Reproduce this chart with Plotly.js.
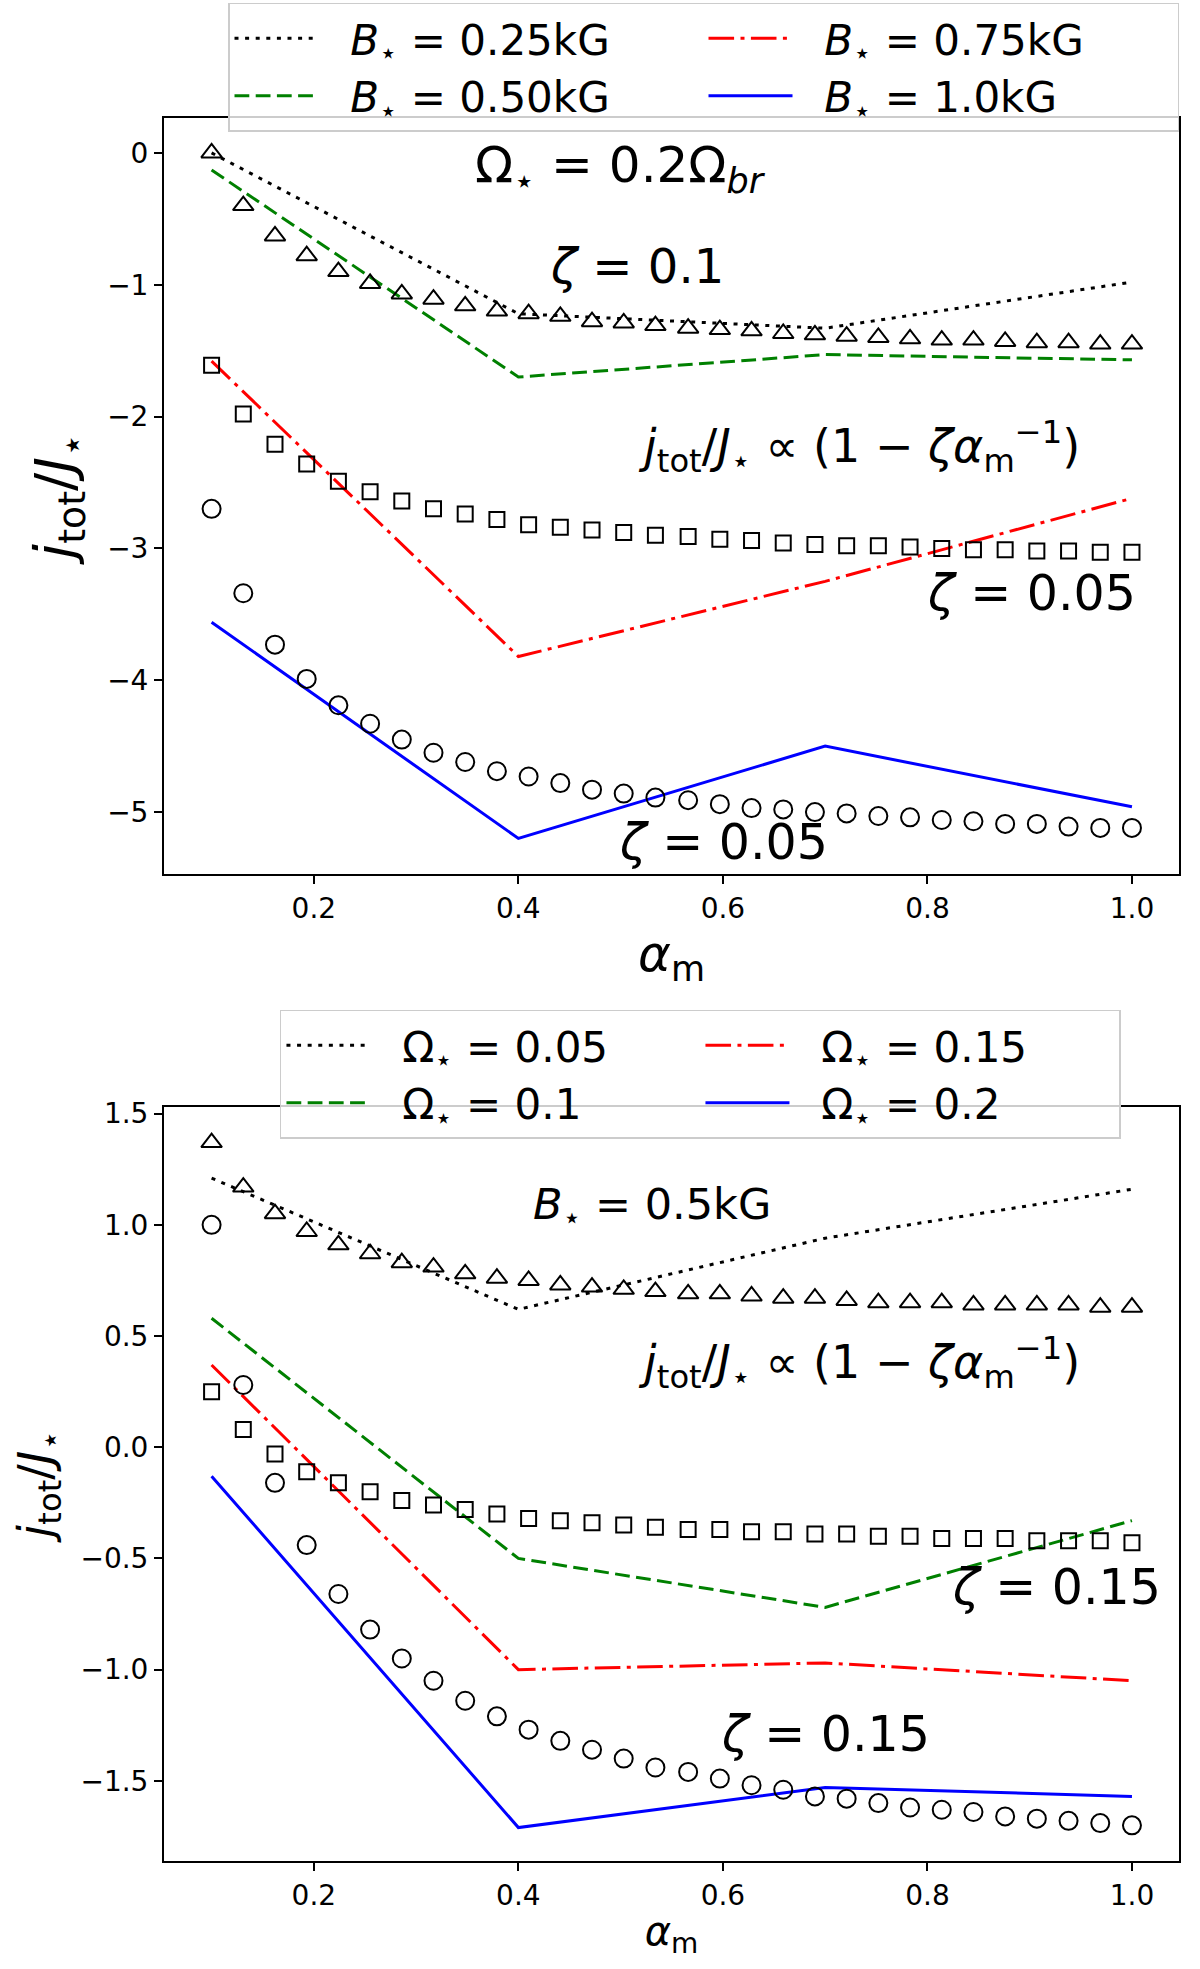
<!DOCTYPE html>
<html>
<head>
<meta charset="utf-8">
<script src="https://cdn.plot.ly/plotly-3.0.1.min.js"></script>
<style>html,body{margin:0;padding:0;background:#fff;}#chart{width:1200px;height:1969px;}</style>
</head>
<body>
<div id="chart"></div>
<script>
// ---- data ----
var alphaLine = [0.1, 0.4, 0.7, 1.0];
var alphaPts = [0.1, 0.131, 0.162, 0.193, 0.224, 0.255, 0.286, 0.317, 0.348, 0.379,
                0.410, 0.441, 0.472, 0.503, 0.534, 0.566, 0.597, 0.628, 0.659, 0.690,
                0.721, 0.752, 0.783, 0.814, 0.845, 0.876, 0.907, 0.938, 0.969, 1.0];

// top panel: Omega = 0.2 Omega_br, different B fields
var topB025 = [0.0, -1.22, -1.33, -0.98];
var topB050 = [-0.13, -1.70, -1.53, -1.57];
var topB075 = [-1.58, -3.82, -3.25, -2.62];
var topB100 = [-3.56, -5.20, -4.50, -4.96];
var topLabels = ['<i>B</i><sub>⋆</sub> = 0.25kG', '<i>B</i><sub>⋆</sub> = 0.50kG',
                 '<i>B</i><sub>⋆</sub> = 0.75kG', '<i>B</i><sub>⋆</sub> = 1.0kG'];

var topTri = [0.0, -0.40, -0.63, -0.78, -0.90, -0.99, -1.07, -1.11, -1.16, -1.20,
              -1.22, -1.24, -1.28, -1.29, -1.31, -1.33, -1.34, -1.35, -1.37, -1.38,
              -1.39, -1.40, -1.41, -1.42, -1.42, -1.43, -1.44, -1.44, -1.45, -1.45];
var topSq = [-1.61, -1.98, -2.21, -2.36, -2.49, -2.57, -2.64, -2.70, -2.74, -2.78,
             -2.82, -2.84, -2.86, -2.88, -2.90, -2.91, -2.93, -2.94, -2.96, -2.97,
             -2.98, -2.98, -2.99, -3.00, -3.01, -3.01, -3.02, -3.02, -3.03, -3.03];
var topCirc = [-2.70, -3.34, -3.73, -3.99, -4.19, -4.33, -4.45, -4.55, -4.62, -4.69,
               -4.73, -4.78, -4.83, -4.86, -4.89, -4.91, -4.94, -4.97, -4.98, -5.00,
               -5.01, -5.03, -5.04, -5.06, -5.07, -5.09, -5.09, -5.11, -5.12, -5.12];

// bottom panel: B = 0.5 kG, different Omega
var botO005 = [1.21, 0.62, 0.94, 1.16];
var botO010 = [0.58, -0.50, -0.72, -0.33];
var botO015 = [0.37, -1.00, -0.97, -1.05];
var botO020 = [-0.13, -1.71, -1.53, -1.57];
var botLabels = ['Ω<sub>⋆</sub> = 0.05', 'Ω<sub>⋆</sub> = 0.1',
                 'Ω<sub>⋆</sub> = 0.15', 'Ω<sub>⋆</sub> = 0.2'];

var botTri = [1.37, 1.17, 1.05, 0.97, 0.91, 0.87, 0.83, 0.81, 0.78, 0.76,
              0.75, 0.73, 0.72, 0.71, 0.70, 0.69, 0.69, 0.68, 0.67, 0.67,
              0.66, 0.65, 0.65, 0.65, 0.64, 0.64, 0.64, 0.64, 0.63, 0.63];
var botSq = [0.25, 0.08, -0.03, -0.11, -0.16, -0.20, -0.24, -0.26, -0.28, -0.30,
             -0.32, -0.33, -0.34, -0.35, -0.36, -0.37, -0.37, -0.38, -0.38, -0.39,
             -0.39, -0.40, -0.40, -0.41, -0.41, -0.41, -0.42, -0.42, -0.42, -0.43];
var botCirc = [1.00, 0.28, -0.16, -0.44, -0.66, -0.82, -0.95, -1.05, -1.14, -1.21,
               -1.27, -1.32, -1.36, -1.40, -1.44, -1.46, -1.49, -1.52, -1.54, -1.57,
               -1.58, -1.60, -1.62, -1.63, -1.64, -1.66, -1.67, -1.68, -1.69, -1.70];

var xTicks = [0.2, 0.4, 0.6, 0.8, 1.0];

// ---- styles ----
var FONT = 'DejaVu Sans, Liberation Sans, sans-serif';
var LW = 3;
var lineStyles = [
  {color: '#000000', dash: '4px,6.6px'},
  {color: '#008000', dash: '14.8px,6.4px'},
  {color: '#ff0000', dash: '25.6px,6.4px,4px,6.4px'},
  {color: '#0000ff', dash: 'solid'}
];
var ranks = [1, 3, 2, 4];
var PAD = '\u00a0\u00a0';

function lineTrace(y, i, label, xa, ya, leg) {
  return {x: alphaLine, y: y, type: 'scatter', mode: 'lines', name: PAD + label,
          xaxis: xa, yaxis: ya, legend: leg, legendrank: ranks[i],
          line: {color: lineStyles[i].color, width: LW, dash: lineStyles[i].dash},
          hoverinfo: 'skip'};
}
function markTrace(y, sym, size, xa, ya) {
  return {x: alphaPts, y: y, type: 'scatter', mode: 'markers', showlegend: false,
          xaxis: xa, yaxis: ya,
          marker: {symbol: sym, size: size, color: '#000000',
                   line: {color: '#000000', width: 2}},
          hoverinfo: 'skip'};
}

var traces = [
  lineTrace(topB025, 0, topLabels[0], 'x', 'y', 'legend'),
  lineTrace(topB050, 1, topLabels[1], 'x', 'y', 'legend'),
  lineTrace(topB075, 2, topLabels[2], 'x', 'y', 'legend'),
  lineTrace(topB100, 3, topLabels[3], 'x', 'y', 'legend'),
  markTrace(topTri, 'triangle-up-open', 18, 'x', 'y'),
  markTrace(topSq, 'square-open', 15, 'x', 'y'),
  markTrace(topCirc, 'circle-open', 18, 'x', 'y'),
  lineTrace(botO005, 0, botLabels[0], 'x2', 'y2', 'legend2'),
  lineTrace(botO010, 1, botLabels[1], 'x2', 'y2', 'legend2'),
  lineTrace(botO015, 2, botLabels[2], 'x2', 'y2', 'legend2'),
  lineTrace(botO020, 3, botLabels[3], 'x2', 'y2', 'legend2'),
  markTrace(botTri, 'triangle-up-open', 18, 'x2', 'y2'),
  markTrace(botSq, 'square-open', 15, 'x2', 'y2'),
  markTrace(botCirc, 'circle-open', 18, 'x2', 'y2')
];

function xAxis(anchor, titleSize, standoff) {
  return {domain: [0.1367, 0.9825], anchor: anchor, range: [0.0535, 1.046],
          tickvals: xTicks, tickformat: '.1f', ticks: 'outside', ticklen: 8, tickwidth: 2,
          tickcolor: '#000', showline: true, mirror: true, linewidth: 2, linecolor: '#000',
          showgrid: false, zeroline: false, automargin: false,
          tickfont: {family: FONT, size: 28, color: '#000'},
          title: {text: '<i>α</i><sub>m</sub>', standoff: standoff,
                  font: {family: FONT, size: titleSize, color: '#000'}}};
}
function yAxis(anchor, domain, range, dtick, fmt, titleSize, standoff) {
  return {domain: domain, anchor: anchor, range: range, dtick: dtick, tick0: 0,
          tickformat: fmt, ticks: 'outside', ticklen: 8, tickwidth: 2,
          tickcolor: '#000', showline: true, mirror: true, linewidth: 2, linecolor: '#000',
          showgrid: false, zeroline: false, automargin: false,
          tickfont: {family: FONT, size: 28, color: '#000'},
          title: {text: '<i>j̇</i><sub>tot</sub>/<i>J</i><sub>⋆</sub>', standoff: standoff,
                  font: {family: FONT, size: titleSize, color: '#000'}}};
}

function ann(text, x, y, xref, yref, size) {
  return {text: text, x: x, y: y, xref: xref, yref: yref, showarrow: false,
          xanchor: 'center', yanchor: 'middle',
          font: {family: FONT, size: size, color: '#000'}};
}
var formula = '<i>j̇</i><sub>tot</sub>/<i>J</i><sub>⋆</sub> ∝ (1 − <i>ζα</i><sub>m</sub><sup>−1</sup>)';

var legendBase = {orientation: 'h', xanchor: 'left', yanchor: 'top', itemwidth: 84,
                  bgcolor: 'rgba(255,255,255,0.8)', bordercolor: '#cccccc', borderwidth: 1.5,
                  traceorder: 'normal', font: {family: FONT, size: 42, color: '#000'}};

var layout = {
  width: 1200, height: 1969,
  margin: {l: 0, r: 0, t: 0, b: 0},
  paper_bgcolor: '#ffffff', plot_bgcolor: '#ffffff',
  font: {family: FONT, color: '#000'},
  xaxis: xAxis('y', 50, 8),
  yaxis: yAxis('x', [0.5561, 0.9401], [-5.47, 0.265], 1, 'd', 54, 16),
  xaxis2: xAxis('y2', 40, 6),
  yaxis2: yAxis('x2', [0.0549, 0.4378], [-1.86, 1.53], 0.5, '.1f', 46, 14),
  legend: Object.assign({}, legendBase, {x: 0.19, y: 0.9985, entrywidth: 375}),
  legend2: Object.assign({}, legendBase, {x: 0.2333, y: 0.4871, entrywidth: 320}),
  annotations: [
    ann('Ω<sub>⋆</sub> = 0.2Ω<sub><i>br</i></sub>', 0.50, -0.12, 'x', 'y', 50),
    ann('<i>ζ</i> = 0.1', 0.516, -0.86, 'x', 'y', 48),
    ann(formula, 0.733, -2.23, 'x', 'y', 46),
    ann('<i>ζ</i> = 0.05', 0.902, -3.34, 'x', 'y', 49),
    ann('<i>ζ</i> = 0.05', 0.601, -5.23, 'x', 'y', 49),
    ann('<i>B</i><sub>⋆</sub> = 0.5kG', 0.531, 1.08, 'x2', 'y2', 43),
    ann(formula, 0.733, 0.38, 'x2', 'y2', 46),
    ann('<i>ζ</i> = 0.15', 0.926, -0.63, 'x2', 'y2', 49),
    ann('<i>ζ</i> = 0.15', 0.700, -1.29, 'x2', 'y2', 49)
  ]
};

Plotly.newPlot('chart', traces, layout, {staticPlot: true, displayModeBar: false});
</script>
</body>
</html>
